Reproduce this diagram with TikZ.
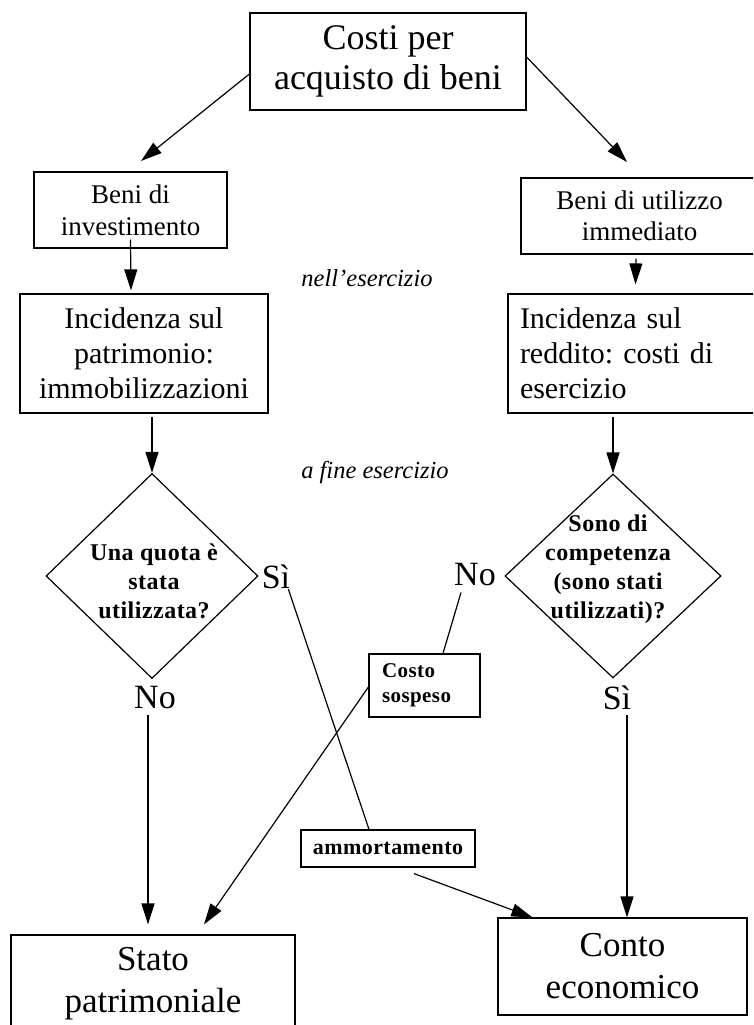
\documentclass[tikz,border=0pt]{standalone}
\usepackage{fontspec}
\setmainfont{Liberation Serif}
\newfontfamily\spacedserif{Liberation Serif}[LetterSpace=2]
\usetikzlibrary{shapes.geometric,arrows.meta}

\newcommand{\fs}[2]{\fontsize{#1}{#2}\selectfont}

\tikzset{
  box/.style={draw, line width=1.2pt, inner sep=0pt, align=center},
  decision/.style={draw, diamond, line width=1.2pt, inner sep=0pt},
  arr/.style={line width=1.2pt, -{Triangle[length=21pt,width=13pt]}},
  plain/.style={line width=1.2pt},
  lab/.style={inner sep=0pt, font=\fs{34}{38}},
  note/.style={inner sep=0pt, font=\fs{24.5}{28}\itshape},
  qtext/.style={inner sep=0pt, align=center, font=\fs{24}{29}\spacedserif\bfseries},
}

\begin{document}
\frenchspacing
\begin{tikzpicture}[x=1pt, y=-1pt]
  \useasboundingbox (0,0) rectangle (753,1025);
  \clip (0,0) rectangle (753,1025);

  % top and first level
  \node[box, minimum width=276pt, minimum height=97pt, font=\fs{36}{40}]
    (top) at (388,61.5) {Costi per\\acquisto di beni};
  \node[box, minimum width=193pt, minimum height=76pt, font=\fs{27}{32}]
    (inv) at (130.5,210) {Beni di\\investimento};
  \node[box, minimum width=237pt, minimum height=76pt, font=\fs{27}{31}]
    (util) at (639.5,216) {Beni di utilizzo\\immediato};

  % second level
  \node[box, minimum width=248pt, minimum height=119pt, font=\fs{30}{35}]
    (incpat) at (144,353.5) {Incidenza sul\\patrimonio:\\immobilizzazioni};
  \node[box, text width=240pt, inner xsep=12pt, minimum height=119pt,
        align=left, font=\fs{30}{35}]
    (incred) at (640,353.5) {Incidenza sul\\reddito: costi di\\esercizio};

  \node[note] (nell) at (367,278) {nell’esercizio};
  \node[note] (fine) at (375,472) {a fine esercizio};

  % decisions
  \node[decision, minimum width=212pt, minimum height=205pt] (ld) at (152,576) {};
  \node[qtext] (ldt) at (154,581) {Una quota è\\stata\\utilizzata?};
  \node[decision, minimum width=216pt, minimum height=204pt] (rd) at (613,576) {};
  \node[qtext] (rdt) at (608,569) {Sono di\\competenza\\(sono stati\\utilizzati)?};

  \node[lab] (siL) at (276,577) {Sì};
  \node[lab] (noL) at (155,698) {No};
  \node[lab] (noR) at (475,575) {No};
  \node[lab] (siR) at (617,698) {Sì};

  % intermediate boxes
  \node[box, text width=85pt, inner xsep=13pt, minimum height=63pt, align=left,
        font=\fs{21}{25}\spacedserif\bfseries]
    (costo) at (424.5,685.5) {Costo\\sospeso};
  \node[box, minimum width=174pt, minimum height=37pt, font=\fs{22}{25}\spacedserif\bfseries]
    (amm) at (388,848.5) {ammortamento};

  % final boxes
  \node[box, minimum width=284pt, minimum height=98pt, font=\fs{35}{42}]
    (stato) at (153,984) {Stato\\patrimoniale};
  \node[box, minimum width=249pt, minimum height=97pt, font=\fs{35}{42}]
    (conto) at (622.5,966.5) {Conto\\economico};

  % connectors
  \coordinate (invtip) at (141,161);
  \coordinate (utiltip) at (627,162);
  \draw[arr] ([yshift=-12.5pt]top.west) -- (invtip);
  \draw[arr] ([yshift=4.5pt]top.east) -- (utiltip);

  \draw[arr] ([yshift=9pt]inv.south) -- ([xshift=-13pt,yshift=3pt]incpat.north);
  \draw[arr] ([xshift=-3.5pt,yshift=-4pt]util.south) -- ([xshift=-4pt,yshift=9pt]incred.north -| util.south);

  \draw[arr] ([yshift=-3pt]incpat.south -| ld.north) -- (ld.north);
  \draw[arr] ([yshift=-3pt]incred.south -| rd.north) -- (rd.north);

  \draw[arr] ([xshift=-7pt,yshift=-5pt]noL.south) -- ([xshift=-5pt,yshift=10pt]stato.north);
  \draw[arr] ([xshift=10pt,yshift=-5pt]siR.south) -- ([xshift=4.5pt]conto.north);

  \draw[plain] ([xshift=-2pt]siL.south east) -- ([xshift=-19pt]amm.north);
  \draw[plain] ([xshift=-14pt,yshift=-6pt]noR.south) -- ([xshift=18.5pt]costo.north);

  \draw[arr] ([yshift=-1.5pt]costo.west) -- ([xshift=51pt,yshift=10pt]stato.north);
  \draw[arr] ([xshift=26pt,yshift=-6pt]amm.south) -- ([xshift=35pt]conto.north west);
\end{tikzpicture}
\end{document}
